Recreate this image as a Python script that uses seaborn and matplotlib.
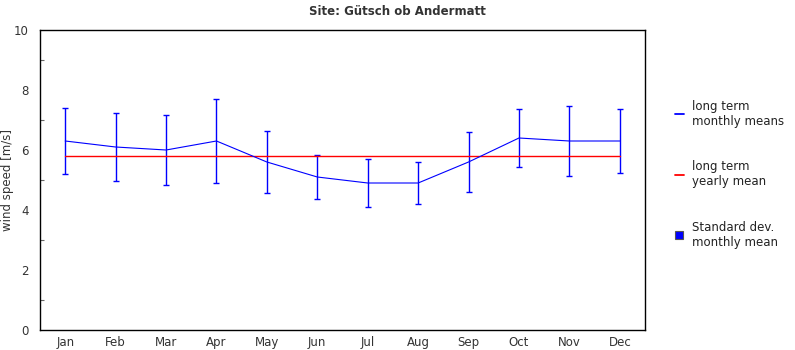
import matplotlib
matplotlib.use("Agg")
import matplotlib.pyplot as plt
from matplotlib.lines import Line2D
from matplotlib.ticker import MultipleLocator
import numpy as np
import pandas as pd
import seaborn as sns

months = ["Jan", "Feb", "Mar", "Apr", "May", "Jun",
          "Jul", "Aug", "Sep", "Oct", "Nov", "Dec"]
monthly_means = [6.3, 6.1, 6.0, 6.3, 5.6, 5.1, 4.9, 4.9, 5.6, 6.4, 6.3, 6.3]
monthly_std = [1.1, 1.13, 1.17, 1.4, 1.03, 0.73, 0.8, 0.7, 1.0, 0.97, 1.17, 1.07]
yearly_mean = 5.8

sns.set_theme(style="white")
plt.rcParams["font.family"] = ["DejaVu Sans"]

df = pd.DataFrame({
    "pos": np.arange(len(months)),
    "month": months,
    "mean": monthly_means,
    "std": monthly_std,
    "yearly": [yearly_mean] * len(months),
})

fig = plt.figure(figsize=(7.95, 3.5), dpi=100)
ax = fig.add_axes([40 / 795, 20 / 350, 605 / 795, 300 / 350])

ax.errorbar(df["pos"], df["mean"], yerr=df["std"], fmt="none",
            ecolor="#0000ff", elinewidth=1.0, capsize=2.5, capthick=1.0, zorder=2)
sns.lineplot(data=df, x="pos", y="yearly", ax=ax, color="#ff0000",
             linewidth=1.0, zorder=3)
sns.lineplot(data=df, x="pos", y="mean", ax=ax, color="#0000ff",
             linewidth=0.8, zorder=4)

ax.set_xlim(-0.5, 11.5)
ax.set_ylim(0, 10)
ax.set_xticks(df["pos"])
ax.set_xticklabels(months)
ax.yaxis.set_major_locator(MultipleLocator(2))
ax.yaxis.set_minor_locator(MultipleLocator(1))
ax.tick_params(axis="both", which="both", direction="in", colors="#666666",
               labelcolor="#333333", labelsize=8.5, width=0.8)
ax.tick_params(axis="both", which="major", length=4)
ax.tick_params(axis="y", which="minor", length=3, left=True)
ax.tick_params(axis="x", pad=4)
ax.tick_params(axis="y", pad=8)
ax.set_xlabel("")
ax.set_ylabel("wind speed [m/s]", fontsize=8.5, color="#333333")
ax.yaxis.set_label_coords(-26 / 605, 0.5)
for s in ax.spines.values():
    s.set_visible(True)
    s.set_color("black")
    s.set_linewidth(1.0)

fig.suptitle("Site: Gütsch ob Andermatt", x=0.5, y=0.985, fontsize=8.5,
             fontweight="bold", color="#333333")

handles = [
    Line2D([], [], color="#0000ff", linewidth=1.3),
    Line2D([], [], color="#ff0000", linewidth=1.3),
    Line2D([], [], color="none", marker="s", markersize=6,
           markerfacecolor="#0000ff", markeredgecolor="#555555",
           markeredgewidth=0.8),
]
labels = ["long term\nmonthly means", "long term\nyearly mean",
          "Standard dev.\nmonthly mean"]
fig.legend(handles, labels, loc="upper left",
           bbox_to_anchor=(664 / 795, 1 - 89 / 350), frameon=False,
           fontsize=8.5, handlelength=0.8, handletextpad=0.7,
           labelspacing=2.75, labelcolor="#222222")

fig.savefig("out.png", dpi=100)
